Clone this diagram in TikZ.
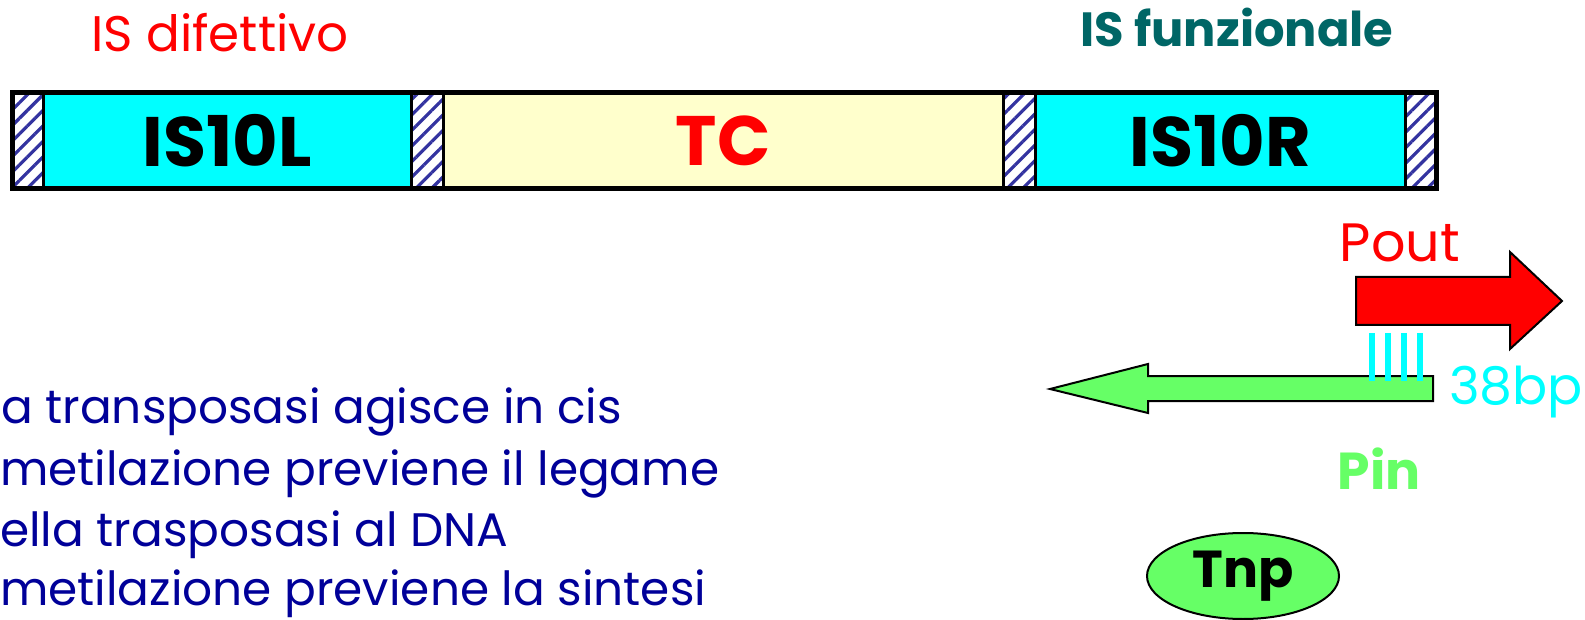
\documentclass[tikz,border=0pt]{standalone}
\usepackage{fontspec}
\setmainfont{Poppins}
\usetikzlibrary{patterns.meta,shapes.geometric}
\definecolor{cyanbox}{HTML}{00FFFF}
\definecolor{tcfill}{HTML}{FFFFCC}
\definecolor{hatchblue}{HTML}{3333A0}
\definecolor{isteal}{HTML}{006666}
\definecolor{pgreen}{HTML}{66FF66}
\definecolor{navytext}{HTML}{000099}
\definecolor{pred}{HTML}{FF0000}
\begin{document}
\begin{tikzpicture}[x=1pt,y=-1pt,
  seg/.style={draw=black, line width=3pt, minimum height=96pt, inner sep=0pt, outer sep=0pt},
  hatchbox/.style={seg, pattern={Lines[angle=45,distance=11pt,line width=3.2pt]}, pattern color=hatchblue},
  isbox/.style={seg, fill=cyanbox, font=\bfseries\fontsize{70}{74}\selectfont},
  tcbox/.style={seg, fill=tcfill, text=pred, font=\bfseries\fontsize{70}{74}\selectfont},
  label/.style={inner sep=0pt, anchor=base},
  bodytext/.style={inner sep=0pt, anchor=base west, text=navytext, font=\fontsize{47}{56}\selectfont},
  arrowshape/.style={draw=black, line width=2pt, line join=miter},
  site/.style={draw=cyanbox, line width=6pt}
]
\useasboundingbox (0,0) rectangle (1585,620);

% top labels
\node[label, text=pred, font=\fontsize{50}{56}\selectfont] (lbldif) at (220,52) {IS difettivo};
\node[label, text=isteal, font=\bfseries\fontsize{48}{56}\selectfont] (lblfun) at (1237,47) {IS funzionale};

% bar segments
\node[hatchbox, minimum width=31pt] (hL1) at (27.5,141) {};
\node[isbox, minimum width=368pt] (is10l) at (227,141) {IS10L};
\node[hatchbox, minimum width=32pt] (hL2) at (427,141) {};
\node[tcbox, minimum width=560pt] (tc) at (723,141) {TC};
\node[hatchbox, minimum width=32pt] (hR1) at (1019,141) {};
\node[isbox, minimum width=370pt] (is10r) at (1220,141) {IS10R};
\node[hatchbox, minimum width=31pt] (hR2) at (1420.5,141) {};
\draw[line width=5pt] (hL1.north west) rectangle (hR2.south east);

% Pout arrow
\node[label, text=pred, font=\fontsize{54}{60}\selectfont] (pout) at (1400,262) {Pout};
\draw[arrowshape, fill=pred] (1356,277) -- (1510,277) -- (1510,252) -- (1562,301)
  -- (1510,349) -- (1510,325) -- (1356,325) -- cycle;

% Pin arrow
\draw[arrowshape, fill=pgreen] (1433,376) -- (1148,376) -- (1148,364) -- (1050,389)
  -- (1148,413) -- (1148,401) -- (1433,401) -- cycle;

% 38bp sites
\coordinate (s1a) at (1372,333); \coordinate (s1b) at (1372,381);
\coordinate (s2a) at (1388,333); \coordinate (s2b) at (1388,381);
\coordinate (s3a) at (1404,333); \coordinate (s3b) at (1404,381);
\coordinate (s4a) at (1420,333); \coordinate (s4b) at (1420,381);
\draw[site] (s1a) -- (s1b);
\draw[site] (s2a) -- (s2b);
\draw[site] (s3a) -- (s3b);
\draw[site] (s4a) -- (s4b);
\node[inner sep=0pt, anchor=base east, text=cyanbox, font=\fontsize{52}{60}\selectfont] (bp) at (1583,404) {38bp};

\node[label, text=pgreen, font=\bfseries\fontsize{52}{60}\selectfont] (pin) at (1379,489) {Pin};

% Tnp
\node[ellipse, draw=black, line width=2pt, fill=pgreen, minimum width=192pt, minimum height=86pt,
  inner sep=0pt, font=\bfseries\fontsize{52}{60}\selectfont] (tnp) at (1243,576) {Tnp};

% body text
\node[bodytext] (t1) at (1,423) {a transposasi agisce in cis};
\node[bodytext] (t2) at (0,485) {metilazione previene il legame};
\node[bodytext] (t3) at (0,546) {ella trasposasi al DNA};
\node[bodytext] (t4) at (0,605) {metilazione previene la sintesi};
\end{tikzpicture}
\end{document}
